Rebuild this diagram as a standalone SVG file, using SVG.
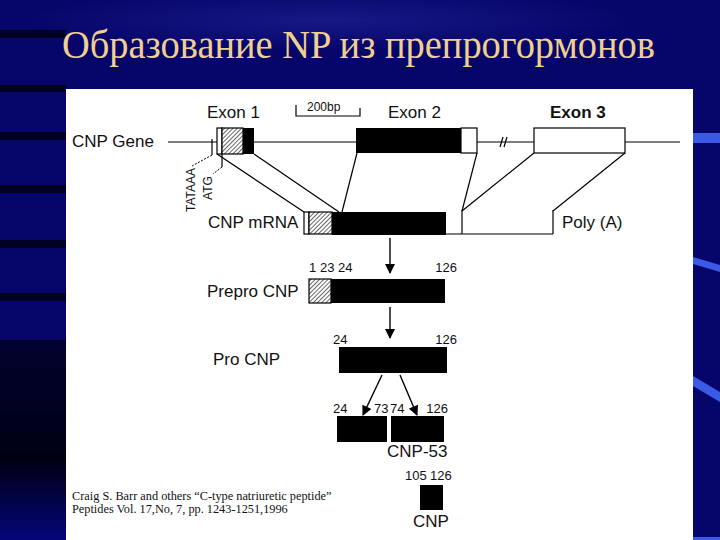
<svg xmlns="http://www.w3.org/2000/svg" width="720" height="540" viewBox="0 0 720 540">
  <defs>
    <pattern id="hatch" width="3" height="3" patternUnits="userSpaceOnUse" patternTransform="rotate(45)">
      <rect width="3" height="3" fill="#fff"/>
      <line x1="0" y1="0" x2="0" y2="3" stroke="#000" stroke-width="1.2"/>
    </pattern>
    <marker id="ah" viewBox="0 0 10 10" refX="9" refY="5" markerWidth="11" markerHeight="10" markerUnits="userSpaceOnUse" orient="auto">
      <path d="M0,0 L10,5 L0,10 z" fill="#000"/>
    </marker>
    <linearGradient id="bgl" x1="0" y1="0" x2="0" y2="1">
      <stop offset="0" stop-color="#020230"/>
      <stop offset="0.6" stop-color="#000014"/>
      <stop offset="1" stop-color="#05057a"/>
    </linearGradient>
    <radialGradient id="glow" cx="0.5" cy="0.5" r="0.5">
      <stop offset="0" stop-color="#1a1a8a" stop-opacity="0.9"/>
      <stop offset="1" stop-color="#1a1a8a" stop-opacity="0"/>
    </radialGradient>
  </defs>
  <style>
    .lbl { font-family: "Liberation Sans", Arial, sans-serif; font-size: 17px; fill: #111; }
    .num { font-family: "Liberation Sans", Arial, sans-serif; font-size: 13px; fill: #111; }
    .sm { font-family: "Liberation Sans", Arial, sans-serif; font-size: 12px; fill: #111; }
    .cite { font-family: "Liberation Serif", "Times New Roman", serif; font-size: 12.3px; fill: #111; }
    .ln { stroke: #000; stroke-width: 1.2; fill: none; }
    .box { stroke: #000; stroke-width: 1.2; }
    .blk { fill: #000; }
    .arr { stroke: #000; stroke-width: 1.4; fill: none; marker-end: url(#ah); }
    .dash { stroke: #000; stroke-width: 1; fill: none; stroke-dasharray: 2 1.5; }
  </style>

  <!-- slide background -->
  <rect width="720" height="540" fill="#06066a"/>
  <ellipse cx="330" cy="20" rx="300" ry="30" fill="url(#glow)"/>
  <rect x="0" y="340" width="66" height="200" fill="url(#bgl)"/>
  <g fill="#000018" opacity="0.85">
    <rect x="0" y="30" width="66" height="8"/>
    <rect x="0" y="85" width="66" height="7"/>
    <rect x="0" y="132" width="66" height="8"/>
    <rect x="0" y="185" width="66" height="8"/>
    <rect x="0" y="240" width="66" height="8"/>
    <rect x="0" y="293" width="66" height="8"/>
  </g>
  <g fill="#3a5ae6">
    <rect x="693" y="133" width="27" height="10"/>
    <polygon points="693,257 720,265 720,272 693,264"/>
    <polygon points="693,376 720,392 720,402 693,386"/>
    <rect x="693" y="537" width="27" height="3"/>
  </g>

  <!-- title -->
  <text id="title" x="62" y="58" font-family="'Liberation Serif', 'Times New Roman', serif" font-size="39" fill="#f0d090" textLength="593" lengthAdjust="spacingAndGlyphs">Образование NP из препрогормонов</text>

  <!-- white panel -->
  <rect x="66" y="89" width="627" height="451" fill="#fff"/>

  <!-- gene -->
  <g id="gene">
    <text class="lbl" x="72" y="147">CNP Gene</text>
    <line class="ln" x1="168" y1="142" x2="680" y2="142"/>
    <line class="ln" x1="500" y1="147" x2="503" y2="137"/>
    <line class="ln" x1="504" y1="147" x2="507" y2="137"/>
    <polyline class="ln" points="296,105 296,116 360,116 360,108"/>
    <text class="sm" x="307" y="111">200bp</text>
  </g>

  <g id="exon1">
    <text class="lbl" x="207" y="118">Exon 1</text>
    <rect class="box" x="217" y="128" width="5" height="26" fill="#fff"/>
    <rect class="box" x="222" y="128" width="21" height="26" fill="url(#hatch)"/>
    <rect class="blk" x="243" y="128" width="11" height="26"/>
    <line class="ln" x1="212" y1="139" x2="212" y2="155"/>
    <polyline class="dash" points="212,155 192,166"/>
    <polyline class="ln" points="222,154 222,167"/>
    <polyline class="dash" points="222,167 213,174"/>
    <text class="sm" transform="translate(195,190) rotate(-90)" text-anchor="middle">TATAAA</text>
    <text class="sm" transform="translate(212,188) rotate(-90)" text-anchor="middle">ATG</text>
  </g>

  <g id="exon2">
    <text class="lbl" x="388" y="118">Exon 2</text>
    <rect class="blk" x="356" y="128" width="105" height="25"/>
    <rect class="box" x="461" y="128" width="16" height="25" fill="#fff"/>
  </g>

  <g id="exon3">
    <text class="lbl" x="550" y="118" style="font-weight:600">Exon 3</text>
    <rect class="box" x="534" y="128" width="91" height="25" fill="#fff"/>
  </g>

  <g id="mrna">
    <text class="lbl" x="208" y="228">CNP mRNA</text>
    <rect class="box" x="304" y="212" width="5" height="22" fill="#fff"/>
    <rect class="box" x="309" y="212" width="23" height="22" fill="url(#hatch)"/>
    <rect class="blk" x="332" y="212" width="114" height="23"/>
    <polyline class="ln" points="446,234 553,234"/>
    <line class="ln" x1="462" y1="210" x2="462" y2="234"/>
    <line class="ln" x1="553" y1="210" x2="553" y2="234"/>
    <text class="lbl" x="562" y="228">Poly (A)</text>
  </g>

  <g id="prepro">
    <text class="lbl" x="207" y="297">Prepro CNP</text>
    <text class="num" x="309" y="272">1</text>
    <text class="num" x="320" y="272">23 24</text>
    <text class="num" x="457" y="272" text-anchor="end">126</text>
    <rect class="box" x="309" y="279" width="22" height="24" fill="url(#hatch)"/>
    <rect class="blk" x="331" y="279" width="114" height="24"/>
  </g>

  <g id="procnp">
    <text class="lbl" x="213" y="365">Pro CNP</text>
    <text class="num" x="333" y="344">24</text>
    <text class="num" x="457" y="344" text-anchor="end">126</text>
    <rect class="blk" x="339" y="347" width="108" height="26"/>
  </g>

  <g id="cnp53">
    <text class="num" x="333" y="413">24</text>
    <text class="num" x="374" y="413">73</text>
    <text class="num" x="390" y="413">74</text>
    <text class="num" x="448" y="413" text-anchor="end">126</text>
    <rect class="blk" x="337" y="416" width="50" height="26"/>
    <rect class="blk" x="391" y="416" width="53" height="26"/>
    <text class="lbl" x="387" y="457">CNP-53</text>
  </g>

  <g id="cnp">
    <text class="num" x="405" y="480">105</text>
    <text class="num" x="430" y="480">126</text>
    <rect class="blk" x="420" y="485" width="23" height="25"/>
    <text class="lbl" x="413" y="527">CNP</text>
  </g>

  <g id="citation">
    <text class="cite" x="72" y="500">Craig S. Barr and others “C-type natriuretic peptide”</text>
    <text class="cite" x="72" y="513">Peptides  Vol. 17,No, 7, pp. 1243-1251,1996</text>
  </g>

  <g id="connectors">
    <line class="ln" x1="217" y1="154" x2="304" y2="212"/>
    <line class="ln" x1="254" y1="154" x2="339" y2="212"/>
    <line class="ln" x1="357" y1="153" x2="342" y2="212"/>
    <line class="ln" x1="477" y1="153" x2="462" y2="211"/>
    <line class="ln" x1="534" y1="153" x2="462" y2="211"/>
    <line class="ln" x1="625" y1="153" x2="553" y2="211"/>
    <line class="arr" x1="390" y1="238" x2="390" y2="273"/>
    <line class="arr" x1="390" y1="307" x2="390" y2="338"/>
    <line class="arr" x1="382" y1="375" x2="363" y2="415"/>
    <line class="arr" x1="400" y1="375" x2="417" y2="415"/>
  </g>
</svg>
